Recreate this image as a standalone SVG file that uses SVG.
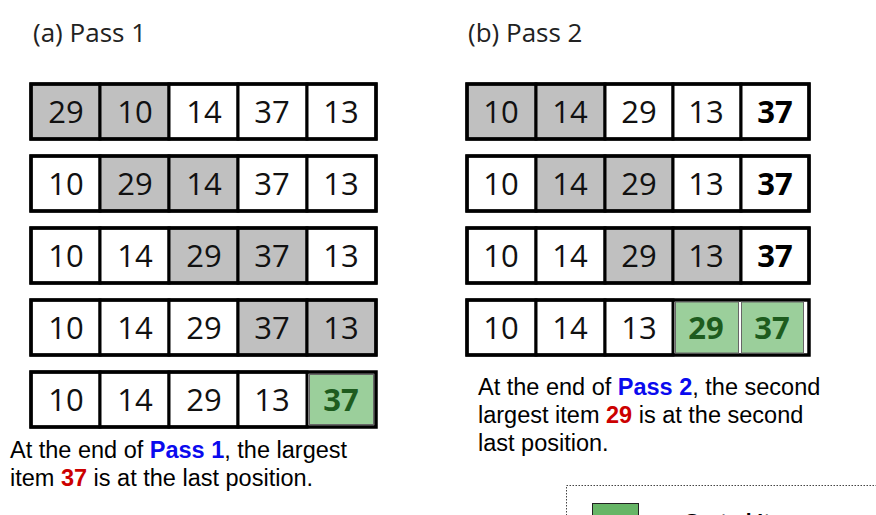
<svg xmlns="http://www.w3.org/2000/svg" width="876" height="515" viewBox="0 0 876 515">
<style>
.title{font-family:"Open Sans","Noto Sans",sans-serif;font-size:26px;fill:#222}
.frame{fill:none;stroke:#000;stroke-width:3.5}
.cell{fill:#fff;stroke:#000;stroke-width:3}
.gray{fill:#c0c0c0;stroke:#000;stroke-width:3}
.green{fill:#9bcf9b;stroke:#666;stroke-width:1}
.num{font-family:"Open Sans","Noto Sans",sans-serif;font-size:31px;fill:#111;text-anchor:middle}
.bold{font-weight:bold;fill:#000}
.gnum{font-weight:bold;fill:#1e5c1e}
.cap{font-family:"Liberation Sans",Arial,sans-serif;font-size:23.5px;fill:#000}
.blue{fill:#0a0aee;font-weight:bold}
.red{fill:#cc0000;font-weight:bold}
</style>
<text class="title" x="33" y="42">(a) Pass 1</text>
<text class="title" x="468" y="42">(b) Pass 2</text>

<g id="pass1-row1">
<rect class="gray" x="31" y="84" width="69" height="55"/>
<rect class="gray" x="100" y="84" width="69" height="55"/>
<rect class="cell" x="169" y="84" width="69" height="55"/>
<rect class="cell" x="238" y="84" width="69" height="55"/>
<rect class="cell" x="307" y="84" width="69" height="55"/>
<rect class="frame" x="31" y="84" width="345" height="55"/>
<text class="num" x="66" y="123">29</text><text class="num" x="135" y="123">10</text><text class="num" x="204" y="123">14</text><text class="num" x="272" y="123">37</text><text class="num" x="341" y="123">13</text>
</g>
<g id="pass1-row2">
<rect class="cell" x="31" y="156" width="69" height="55"/>
<rect class="gray" x="100" y="156" width="69" height="55"/>
<rect class="gray" x="169" y="156" width="69" height="55"/>
<rect class="cell" x="238" y="156" width="69" height="55"/>
<rect class="cell" x="307" y="156" width="69" height="55"/>
<rect class="frame" x="31" y="156" width="345" height="55"/>
<text class="num" x="66" y="195">10</text><text class="num" x="135" y="195">29</text><text class="num" x="204" y="195">14</text><text class="num" x="272" y="195">37</text><text class="num" x="341" y="195">13</text>
</g>
<g id="pass1-row3">
<rect class="cell" x="31" y="228" width="69" height="55"/>
<rect class="cell" x="100" y="228" width="69" height="55"/>
<rect class="gray" x="169" y="228" width="69" height="55"/>
<rect class="gray" x="238" y="228" width="69" height="55"/>
<rect class="cell" x="307" y="228" width="69" height="55"/>
<rect class="frame" x="31" y="228" width="345" height="55"/>
<text class="num" x="66" y="267">10</text><text class="num" x="135" y="267">14</text><text class="num" x="204" y="267">29</text><text class="num" x="272" y="267">37</text><text class="num" x="341" y="267">13</text>
</g>
<g id="pass1-row4">
<rect class="cell" x="31" y="300" width="69" height="55"/>
<rect class="cell" x="100" y="300" width="69" height="55"/>
<rect class="cell" x="169" y="300" width="69" height="55"/>
<rect class="gray" x="238" y="300" width="69" height="55"/>
<rect class="gray" x="307" y="300" width="69" height="55"/>
<rect class="frame" x="31" y="300" width="345" height="55"/>
<text class="num" x="66" y="339">10</text><text class="num" x="135" y="339">14</text><text class="num" x="204" y="339">29</text><text class="num" x="272" y="339">37</text><text class="num" x="341" y="339">13</text>
</g>
<g id="pass1-row5">
<rect class="cell" x="31" y="372" width="69" height="55"/>
<rect class="cell" x="100" y="372" width="69" height="55"/>
<rect class="cell" x="169" y="372" width="69" height="55"/>
<rect class="cell" x="238" y="372" width="69" height="55"/>
<rect class="frame" x="31" y="372" width="345" height="55"/>
<rect class="green" x="309.5" y="374.5" width="64" height="50"/>
<text class="num" x="66" y="411">10</text><text class="num" x="135" y="411">14</text><text class="num" x="204" y="411">29</text><text class="num" x="272" y="411">13</text><text class="num gnum" x="341" y="411">37</text>
</g>

<g id="pass2-row1">
<rect class="gray" x="467" y="84" width="69" height="55"/>
<rect class="gray" x="536" y="84" width="69" height="55"/>
<rect class="cell" x="605" y="84" width="68" height="55"/>
<rect class="cell" x="673" y="84" width="68" height="55"/>
<rect class="cell" x="741" y="84" width="68" height="55"/>
<rect class="frame" x="467" y="84" width="342" height="55"/>
<text class="num" x="501" y="123">10</text><text class="num" x="570" y="123">14</text><text class="num" x="639" y="123">29</text><text class="num" x="706" y="123">13</text><text class="num bold" x="775" y="123">37</text>
</g>
<g id="pass2-row2">
<rect class="cell" x="467" y="156" width="69" height="55"/>
<rect class="gray" x="536" y="156" width="69" height="55"/>
<rect class="gray" x="605" y="156" width="68" height="55"/>
<rect class="cell" x="673" y="156" width="68" height="55"/>
<rect class="cell" x="741" y="156" width="68" height="55"/>
<rect class="frame" x="467" y="156" width="342" height="55"/>
<text class="num" x="501" y="195">10</text><text class="num" x="570" y="195">14</text><text class="num" x="639" y="195">29</text><text class="num" x="706" y="195">13</text><text class="num bold" x="775" y="195">37</text>
</g>
<g id="pass2-row3">
<rect class="cell" x="467" y="228" width="69" height="55"/>
<rect class="cell" x="536" y="228" width="69" height="55"/>
<rect class="gray" x="605" y="228" width="68" height="55"/>
<rect class="gray" x="673" y="228" width="68" height="55"/>
<rect class="cell" x="741" y="228" width="68" height="55"/>
<rect class="frame" x="467" y="228" width="342" height="55"/>
<text class="num" x="501" y="267">10</text><text class="num" x="570" y="267">14</text><text class="num" x="639" y="267">29</text><text class="num" x="706" y="267">13</text><text class="num bold" x="775" y="267">37</text>
</g>
<g id="pass2-row4">
<rect class="cell" x="467" y="300" width="69" height="55"/>
<rect class="cell" x="536" y="300" width="69" height="55"/>
<rect class="cell" x="605" y="300" width="68" height="55"/>
<rect class="frame" x="467" y="300" width="342" height="55"/>
<rect class="green" x="675.5" y="302" width="63" height="51"/>
<rect class="green" x="741.5" y="302" width="62" height="51"/>
<text class="num" x="501" y="339">10</text><text class="num" x="570" y="339">14</text><text class="num" x="639" y="339">13</text><text class="num gnum" x="706" y="339">29</text><text class="num gnum" x="772" y="339">37</text>
</g>

<g id="caption1">
<text class="cap" x="10" y="458">At the end of <tspan class="blue">Pass 1</tspan>, the largest</text>
<text class="cap" x="10" y="486">item <tspan class="red">37</tspan> is at the last position.</text>
</g>
<g id="caption2">
<text class="cap" x="478" y="395">At the end of <tspan class="blue">Pass 2</tspan>, the second</text>
<text class="cap" x="478" y="423">largest item <tspan class="red">29</tspan> is at the second</text>
<text class="cap" x="478" y="451">last position.</text>
</g>

<g id="legend">
<rect x="566.5" y="485.5" width="330" height="60" fill="#fff" stroke="#444" stroke-width="1" stroke-dasharray="1.5,1.5"/>
<rect x="592.5" y="503.5" width="46" height="30" fill="#66b566" stroke="#222" stroke-width="1"/>
<text x="685" y="528" font-family="Liberation Sans,Arial,sans-serif" font-size="21" font-weight="bold" fill="#000">Sorted Items</text>
</g>
</svg>
